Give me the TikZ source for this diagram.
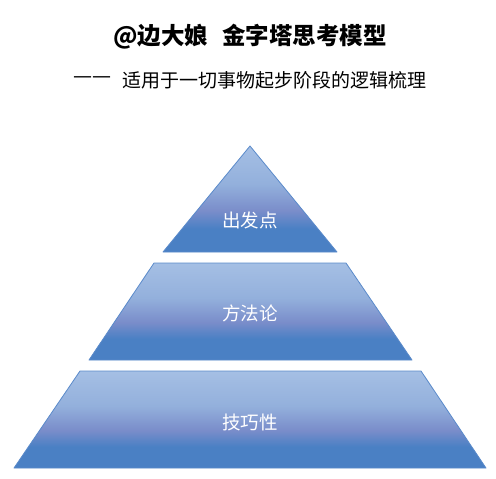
\documentclass[tikz,border=0pt]{standalone}
\usepackage{fontspec}
\setmainfont{Noto Sans CJK SC}
\newfontfamily\dashfont{DejaVu Sans}
\usepackage{xcolor}
\usepackage{tikz}
\usetikzlibrary{calc}
\definecolor{edge}{HTML}{5A8ACA}
\definecolor{topblue}{HTML}{A5BFE4}
\definecolor{paleblue}{HTML}{93B0DC}
\definecolor{midblue}{HTML}{7A8DCA}
\definecolor{lowblue}{HTML}{4A80C4}
\definecolor{ink}{HTML}{000000}
\definecolor{label}{HTML}{FFFFFF}
\pgfdeclareverticalshading{tiershade}{100bp}{color(0bp)=(lowblue); color(25bp)=(lowblue); color(36bp)=(lowblue); color(44.5bp)=(midblue); color(57bp)=(paleblue); color(75bp)=(topblue); color(100bp)=(topblue)}
\tikzset{
  tier/.style={draw=edge, line width=0.8pt, line join=round, shading=tiershade},
  ttl/.style={text=ink, font=\bfseries\fontsize{23.5}{26}\selectfont},
  sub/.style={text=ink, font=\fontsize{19}{22}\selectfont, inner sep=0pt},
  lbl/.style={text=label, font=\fontsize{18.5}{21}\selectfont}
}

\begin{document}
\begin{tikzpicture}[x=1pt, y=-1pt]
  \useasboundingbox (0,0) rectangle (496,479);

  % top triangle
  \coordinate (A) at (250,146);
  \coordinate (B) at (163,252);
  \coordinate (C) at (337,252);
  % middle band
  \coordinate (D) at (154,263);
  \coordinate (E) at (346,263);
  \coordinate (F) at (412,360);
  \coordinate (G) at (89,360);
  % bottom band
  \coordinate (H) at (80,371);
  \coordinate (I) at (421,371);
  \coordinate (J) at (486,468);
  \coordinate (K) at (14,468);

  \draw[tier] (A)--(C)--(B)--cycle;
  \draw[tier] (D)--(E)--(F)--(G)--cycle;
  \draw[tier] (H)--(I)--(J)--(K)--cycle;

  \node[lbl] (top) at (250,220) {出发点};
  \node[lbl] (mid) at (250,313) {方法论};
  \node[lbl] (low) at (250,422) {技巧性};

  \node[ttl] (title) at (250,37) {@边大娘\hspace{14pt}金字塔思考模型};
  \node[sub, anchor=west] (dash) at (73,80) {\dashfont\fontsize{19}{22}\selectfont ——};
  \node[sub, anchor=west] (subtitle) at (122,80) {适用于一切事物起步阶段的逻辑梳理};
\end{tikzpicture}
\end{document}
